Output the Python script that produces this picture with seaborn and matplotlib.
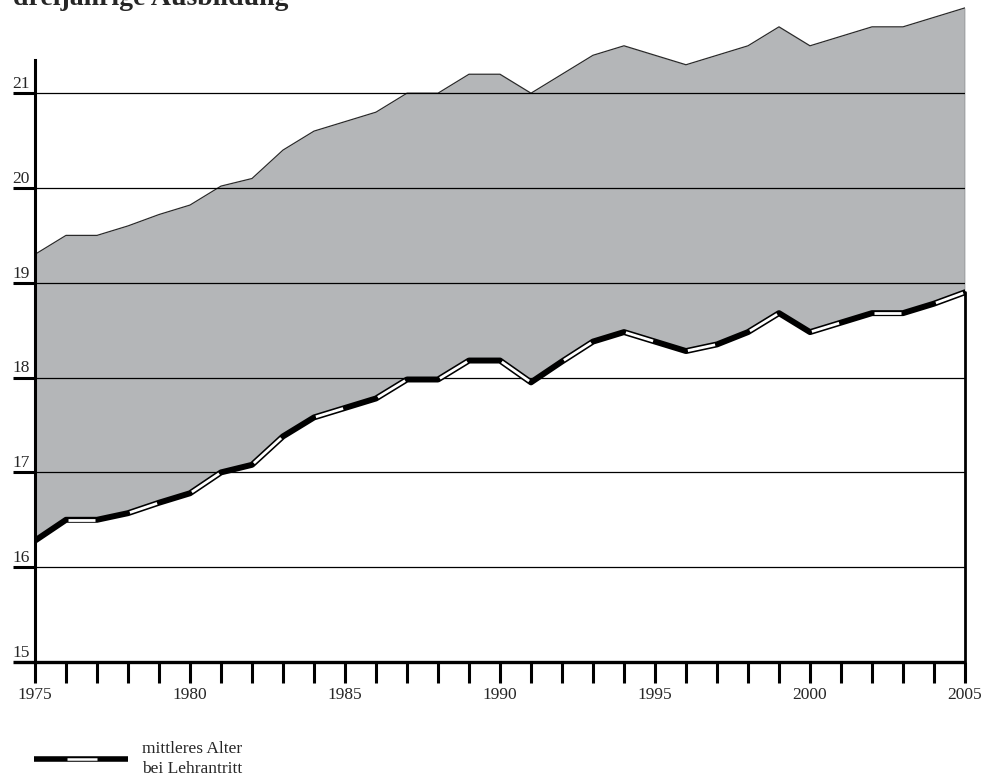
import numpy as np
import pandas as pd
import matplotlib
matplotlib.use("Agg")
import matplotlib.pyplot as plt
import seaborn as sns

years = list(range(1975, 2006))
lower = [16.28, 16.50, 16.50, 16.57, 16.68, 16.78, 17.00, 17.08, 17.38, 17.58,
         17.68, 17.78, 17.98, 17.98, 18.18, 18.18, 17.95, 18.17, 18.38, 18.48,
         18.38, 18.28, 18.35, 18.48, 18.68, 18.48, 18.58, 18.68, 18.68, 18.78, 18.90]
upper = [19.30, 19.50, 19.50, 19.60, 19.72, 19.82, 20.02, 20.10, 20.40, 20.60,
         20.70, 20.80, 21.00, 21.00, 21.20, 21.20, 21.00, 21.20, 21.40, 21.50,
         21.40, 21.30, 21.40, 21.50, 21.70, 21.50, 21.60, 21.70, 21.70, 21.80, 21.90]
y_ticks = [15, 16, 17, 18, 19, 20, 21]
x_label_years = [1975, 1980, 1985, 1990, 1995, 2000, 2005]
title = "dreijährige Ausbildung"
legend_text = "mittleres Alter\nbei Lehrantritt"

df = pd.DataFrame({"Jahr": years, "unten": lower, "oben": upper})

sns.set_style("white")
plt.rcParams["font.family"] = ["Liberation Serif", "DejaVu Serif"]

fig = plt.figure(figsize=(9.87, 7.78), dpi=100)
ax = fig.add_axes([35/987, (778-662)/778, 930/987, 662/778])
ax.set_xlim(1975, 2005)
ax.set_ylim(15, 15 + 662/94.8)

gray = "#b4b6b8"
ax.fill_between(df["Jahr"], df["unten"], df["oben"], color=gray, lw=0, zorder=1)
sns.lineplot(data=df, x="Jahr", y="oben", ax=ax, color="#2a2a2a", lw=0.9, zorder=2)

# grid lines
for v in y_ticks[1:]:
    ax.axhline(v, color="black", lw=0.9, zorder=3)

# right edge at 2005
ax.plot([2005, 2005], [lower[-1], upper[-1]], color="#333333", lw=0.9, zorder=3)
ax.plot([2005, 2005], [15, lower[-1]], color="black", lw=2.0, zorder=4, clip_on=False)

# ribbon line: black thick with alternating white segments
sns.lineplot(data=df, x="Jahr", y="unten", ax=ax, color="black", lw=4.3, zorder=5)
for i in range(1, len(years) - 1, 2):
    x0, x1 = years[i], years[i + 1]
    y0, y1 = lower[i], lower[i + 1]
    f0, f1 = 0.06, 0.94
    ax.plot([x0 + (x1 - x0) * f0, x0 + (x1 - x0) * f1],
            [y0 + (y1 - y0) * f0, y0 + (y1 - y0) * f1],
            color="white", lw=2.0, solid_capstyle="butt", zorder=6)

ax.set_xlabel("")
ax.set_ylabel("")

# spines
for s in ["top", "right", "bottom"]:
    ax.spines[s].set_visible(False)
ax.spines["left"].set_linewidth(2.2)
ax.spines["left"].set_color("black")
ax.spines["left"].set_bounds(15, 21.35)
ax.plot([1975 - 22/31, 2005], [15, 15], color="black", lw=2.4, clip_on=False,
        solid_capstyle="butt", zorder=7)

# x ticks
ax.set_xticks(years)
ax.set_xticklabels([str(y) if y in x_label_years else "" for y in years], fontsize=12.5)
ax.tick_params(axis="x", bottom=True, direction="out", length=15, width=2.2,
               color="black", pad=3)

# y ticks
ax.set_yticks(y_ticks[1:])
ax.set_yticklabels([])
ax.tick_params(axis="y", direction="out", length=16, width=2.2, color="black", left=True)
for v in y_ticks:
    ax.text(-0.006, v + 0.055, str(v), transform=ax.get_yaxis_transform(),
            ha="right", va="baseline", fontsize=12.5)

# legend
ax.plot([-1/930, 93/930], [-0.1465, -0.1465], transform=ax.transAxes, color="black",
        lw=4.0, clip_on=False, solid_capstyle="butt")
ax.plot([32/930, 62/930], [-0.1465, -0.1465], transform=ax.transAxes, color="white",
        lw=1.8, clip_on=False, solid_capstyle="butt")
ax.text(107/930, -0.1465, legend_text, transform=ax.transAxes, ha="left", va="center",
        fontsize=12.5, linespacing=1.4)

fig.text(13/987, 1 - 5/778, title, ha="left", va="baseline", fontsize=20,
         fontweight="bold")

fig.savefig("out.png", dpi=100)
